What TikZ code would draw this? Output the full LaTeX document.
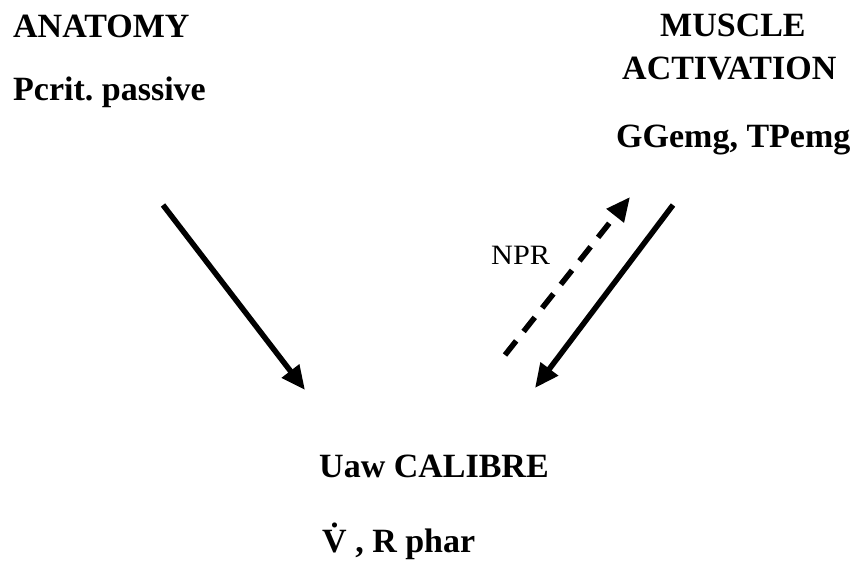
\documentclass[tikz,border=0pt]{standalone}
\usepackage{fontspec}
\setmainfont{Liberation Serif}
\usetikzlibrary{arrows.meta}
\begin{document}
\frenchspacing
\begin{tikzpicture}[x=1pt,y=-1pt,
  heading/.style={anchor=base west,inner sep=0pt,font=\fontsize{34}{40}\selectfont\bfseries},
  small/.style={anchor=base west,inner sep=0pt,font=\fontsize{28}{32}\selectfont},
  link/.style={line width=5.5pt,-{Triangle[length=24pt,width=21pt]}},
  npr/.style={link,dash pattern=on 18pt off 12pt}]
  \useasboundingbox (0,0) rectangle (854,578);
  % top left block
  \node[heading] (anat) at (13,38) {ANATOMY};
  \node[heading] (pcrit) at (13,100) {Pcrit.\ passive};
  % top right block
  \node[heading] (musc) at (660,37) {MUSCLE};
  \node[heading] (act) at (622,80) {ACTIVATION};
  \node[heading] (emg) at (616,147) {GGemg, TPemg};
  % bottom block
  \node[heading] (uaw) at (319,477) {Uaw CALIBRE};
  \node[heading] (vr) at (322,552) {\.{V} , R phar};
  \node[small,xscale=1.08] (nprlab) at (491,264) {NPR};
  % arrow end points
  \coordinate (a1) at (163,205);
  \coordinate (b1) at (305,390);
  \coordinate (a2) at (673,205);
  \coordinate (b2) at (535,388);
  \coordinate (a3) at (505,355);
  \coordinate (b3) at (630,197);
  \draw[link] (a1) -- (b1);
  \draw[link] (a2) -- (b2);
  \draw[npr] (a3) -- (b3);
\end{tikzpicture}
\end{document}
